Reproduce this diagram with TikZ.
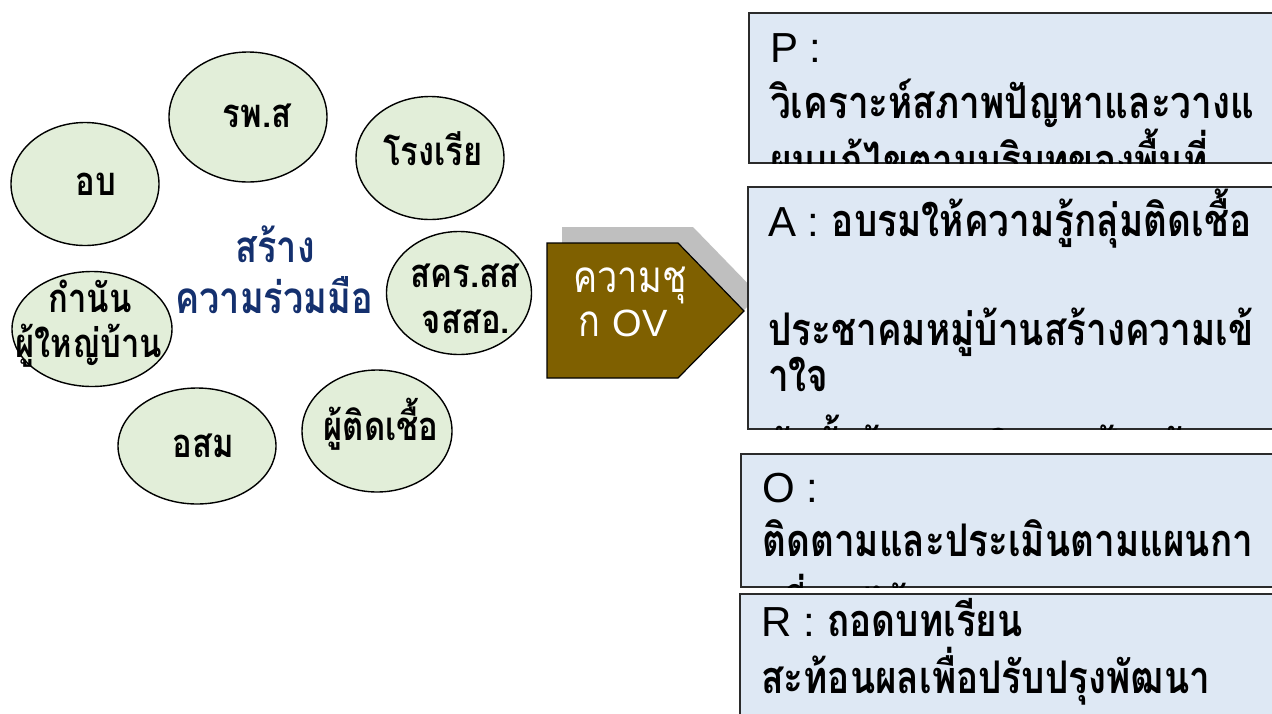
\documentclass[tikz,border=0pt]{standalone}
\usepackage{fontspec}
\newfontfamily\thai[Script=Thai,FakeStretch=0.82]{Loma}
\newfontfamily\lat{Liberation Sans}
\definecolor{ellfill}{HTML}{E2EED9}
\definecolor{boxfill}{HTML}{DEE8F4}
\definecolor{arrowfill}{HTML}{7F6000}
\definecolor{shadowgray}{HTML}{BFBFBF}
\definecolor{darkblue}{HTML}{14306E}
\definecolor{boxline}{HTML}{2B2B2B}
\usetikzlibrary{shapes.geometric}
\tikzset{
  ell/.style={ellipse, draw=black, line width=1.4pt, fill=ellfill, inner sep=0pt},
  elltext/.style={anchor=base, inner sep=0pt, font=\thai\bfseries\fontsize{40}{44}\selectfont},
  pdcabox/.style={rectangle, draw=boxline, line width=1.6pt, fill=boxfill, anchor=north west, inner sep=0pt},
  boxtext/.style={anchor=base west, inner sep=0pt, font=\thai\bfseries\fontsize{45}{50}\selectfont},
  centertext/.style={anchor=base, inner sep=0pt, text=darkblue, font=\thai\bfseries\fontsize{44}{48}\selectfont},
  arrowtext/.style={anchor=base, inner sep=0pt, text=white, font=\thai\fontsize{44}{48}\selectfont},
}
\newcommand{\la}[1]{{\lat\mdseries\fontsize{42}{50}\selectfont #1}}
\newcommand{\lb}[1]{{\lat\mdseries\fontsize{38}{44}\selectfont #1}}
\begin{document}
\begin{tikzpicture}[x=1pt,y=-1pt]
\useasboundingbox (0,0) rectangle (1272,713);
\clip (0,0) rectangle (1272,713);
\fill[white] (0,0) rectangle (1272,713);

% ellipses
\node[ell, minimum width=158pt, minimum height=130pt] (rps) at (248,117) {};
\node[ell, minimum width=148pt, minimum height=123pt] (ob) at (85,184) {};
\node[ell, minimum width=148pt, minimum height=123pt] (school) at (430,158) {};
\node[ell, minimum width=145pt, minimum height=123pt] (skr) at (459,293) {};
\node[ell, minimum width=160pt, minimum height=115pt] (kamnan) at (92,329) {};
\node[ell, minimum width=158pt, minimum height=116pt] (osm) at (197,446) {};
\node[ell, minimum width=150pt, minimum height=122pt] (infected) at (377,431) {};

\node[elltext] (rpsl) at (257,127) {รพ.ส};
\node[elltext] (obl) at (96,195) {อบ};
\node[elltext] (schooll) at (433,165) {โรงเรีย};
\node[elltext] (skrl1) at (465,287) {สคร.สส};
\node[elltext] (skrl2) at (466,333) {จสสอ.};
\node[elltext] (kamnanl1) at (90,312) {กำนัน};
\node[elltext] (kamnanl2) at (89,357) {ผู้ใหญ่บ้าน};
\node[elltext] (osml) at (203,457) {อสม};
\node[elltext] (infectedl) at (381,440) {ผู้ติดเชื้อ};

\node[centertext] (center1) at (275,262) {สร้าง};
\node[centertext] (center2) at (274,313) {ความร่วมมือ};

% arrow with shadow
\fill[shadowgray] (562,227) -- (693,227) -- (759,295) -- (693,362) -- (562,362) -- cycle;
\draw[fill=arrowfill, line width=1.2pt] (547,243) -- (678,243) -- (744,311) -- (678,378) -- (547,378) -- cycle;
\node[arrowtext] (arrowl1) at (630,292) {ความชุ};
\node[arrowtext] (arrowl2) at (623,336) {ก \lb{OV}};

% P box
\node[pdcabox, minimum width=560pt, minimum height=150pt] (P) at (748,12) {};
\begin{scope}
\clip (P.north west) rectangle (P.south east);
\node[boxtext] (p1) at (770,62) {\la{P :}};
\node[boxtext] (p2) at (770,118) {วิเคราะห์สภาพปัญหาและวางแ};
\node[boxtext] (p3) at (770,176) {ผนแก้ไขตามบริบทของพื้นที่};
\end{scope}

% A box
\node[pdcabox, minimum width=560pt, minimum height=242pt] (A) at (747,186) {};
\begin{scope}
\clip (A.north west) rectangle (A.south east);
\node[boxtext] (a1) at (768,236) {\la{A :} อบรมให้ความรู้กลุ่มติดเชื้อ};
\node[boxtext] (a2) at (768,345) {ประชาคมหมู่บ้านสร้างความเข้};
\node[boxtext] (a3) at (768,391) {าใจ};
\node[boxtext] (a4) at (768,462) {จัดตั้งข้อตกลงในการป้องกัน};
\end{scope}

% O box
\node[pdcabox, minimum width=570pt, minimum height=133pt] (O) at (740,453) {};
\begin{scope}
\clip (O.north west) rectangle (O.south east);
\node[boxtext] (o1) at (762,502) {\la{O :}};
\node[boxtext] (o2) at (762,556) {ติดตามและประเมินตามแผนกา};
\node[boxtext] (o3) at (762,620) {รที่วางไว้};
\end{scope}

% R box
\node[pdcabox, minimum width=570pt, minimum height=140pt] (R) at (739,593) {};
\begin{scope}
\clip (R.north west) rectangle (R.south east);
\node[boxtext] (r1) at (761,636) {\la{R :} ถอดบทเรียน};
\node[boxtext] (r2) at (761,693) {สะท้อนผลเพื่อปรับปรุงพัฒนา};
\end{scope}
\end{tikzpicture}
\end{document}
